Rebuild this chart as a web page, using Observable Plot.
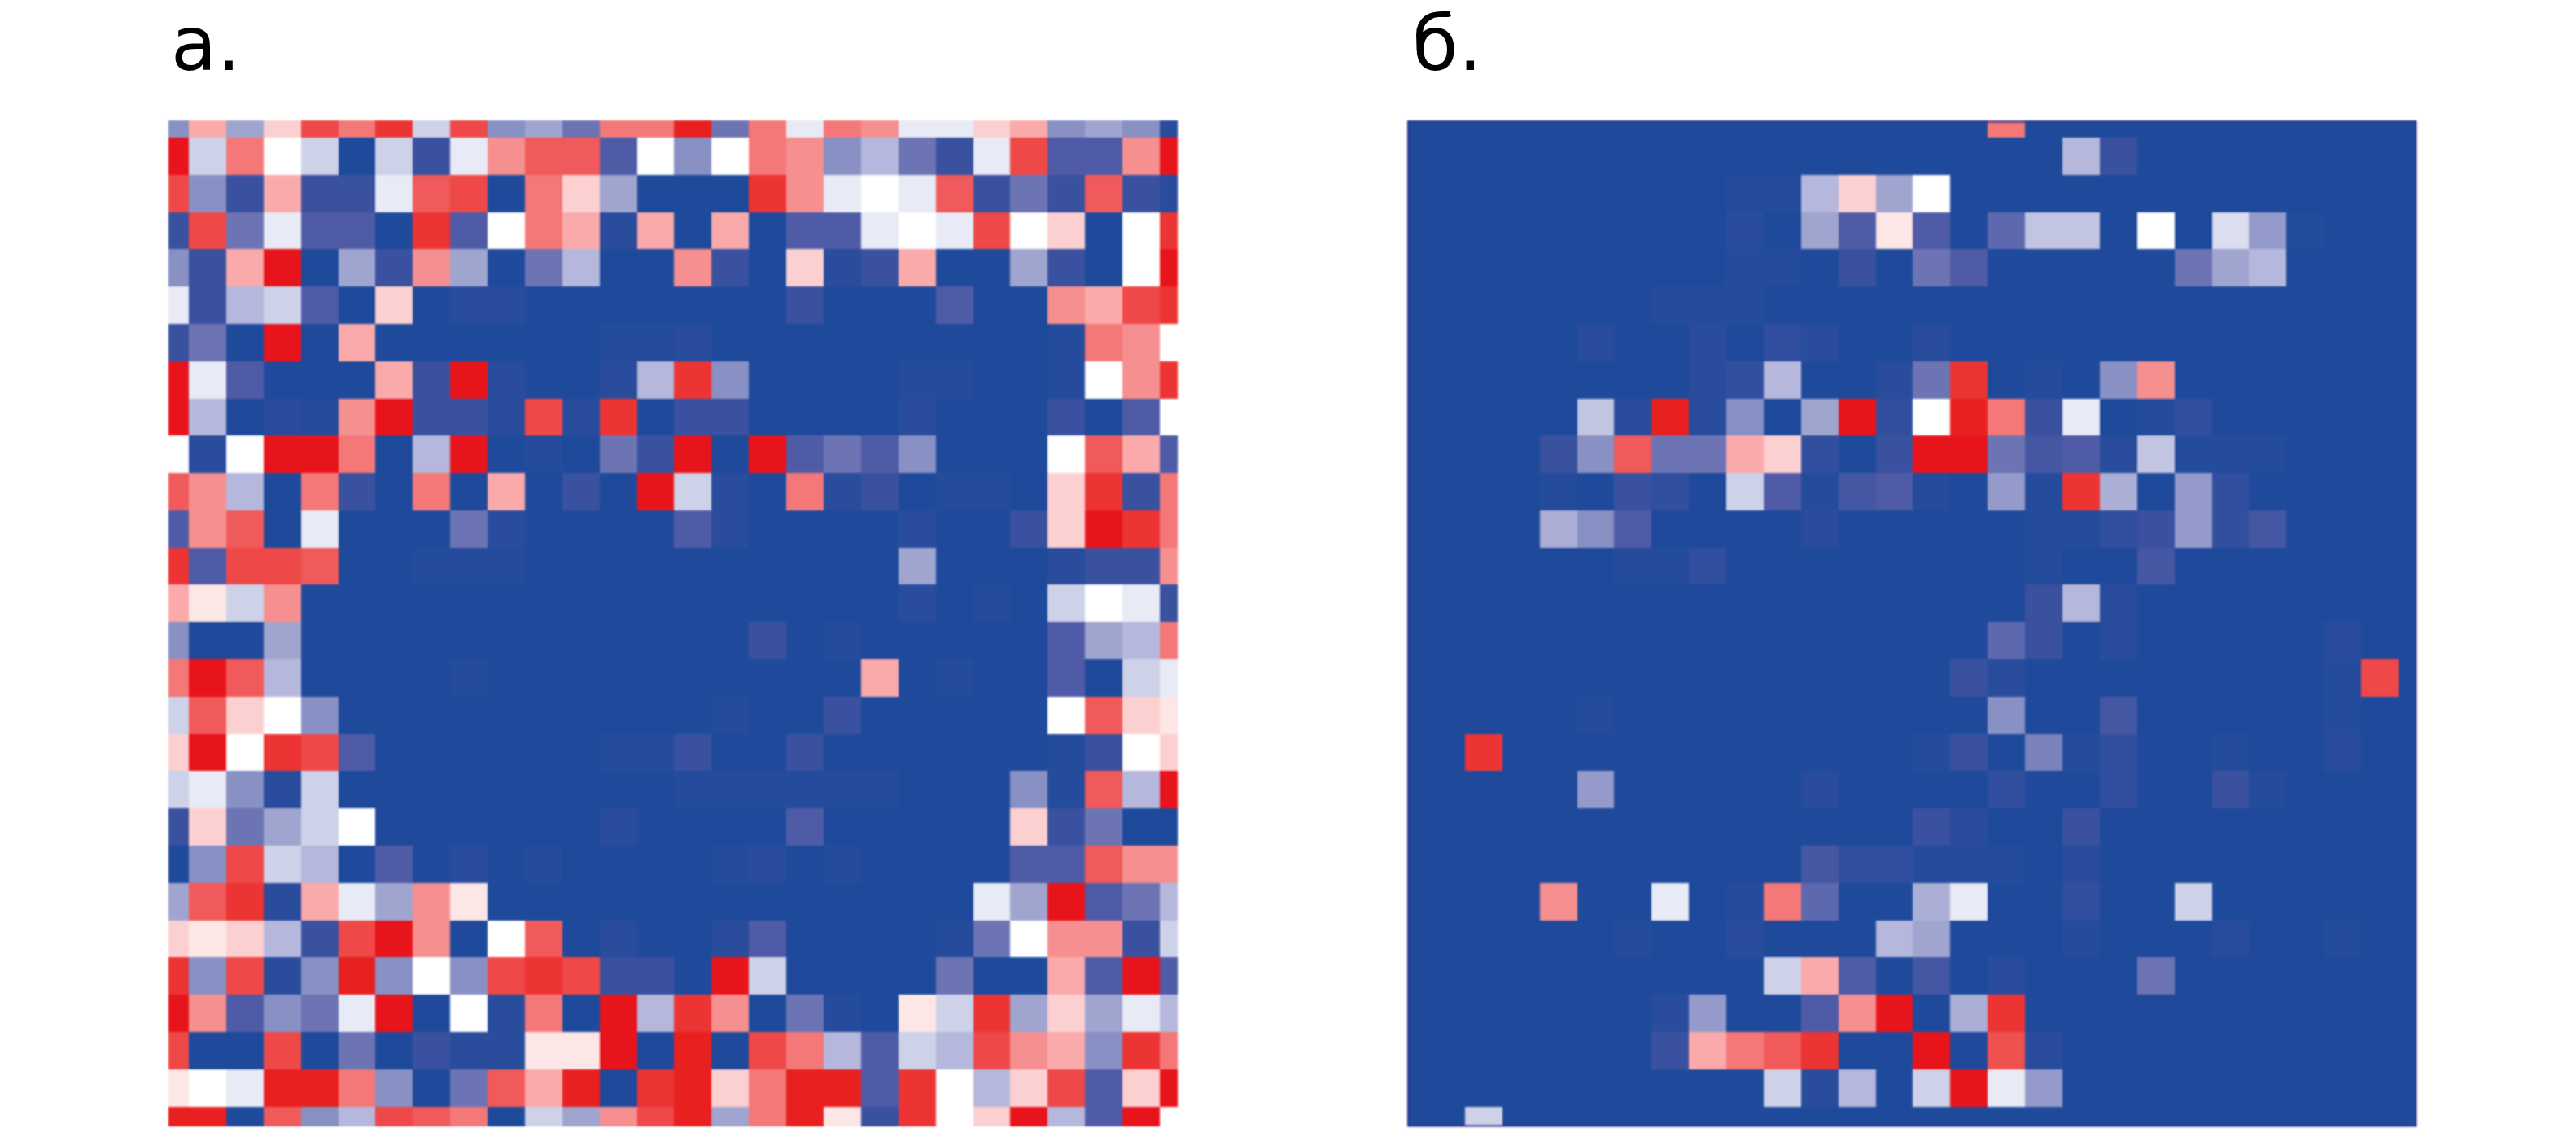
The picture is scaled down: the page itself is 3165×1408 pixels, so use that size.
<!DOCTYPE html>
<html lang="ru">
<head>
<meta charset="utf-8">
<script src="https://cdn.jsdelivr.net/npm/d3@7"></script>
<script src="https://cdn.jsdelivr.net/npm/@observablehq/plot@0.6"></script>
<style>
html,body{margin:0;padding:0;background:#fff;width:3165px;height:1408px;overflow:hidden}
.lab{position:absolute;top:1px;font:92px "DejaVu Sans",sans-serif;line-height:normal;color:#000;margin:0;font-weight:400}
.panel{position:absolute;line-height:0}
.panel svg{filter:blur(1.2px);overflow:visible}
</style>
</head>
<body>
<div class="lab" style="left:210px">а.</div>
<div class="lab" style="left:1735px">б.</div>
<div class="panel" id="a" style="left:207px;top:148px"></div>
<div class="panel" id="b" style="left:1729px;top:148px"></div>
<script>
const panelA = [
[5,13,6,12,17,15,18,8,17,5,6,4,15,15,19,4,15,9,15,14,9,9,12,13,5,6,5,1],
[20,8,15,10,8,0,8,2,9,14,16,16,3,10,5,10,15,14,5,7,4,2,9,17,3,3,14,20],
[17,5,2,13,2,2,9,16,17,0,15,12,6,0,0,0,18,14,9,10,9,16,2,4,2,16,2,1],
[2,17,4,9,3,3,0,18,3,10,15,13,1,13,0,13,0,3,3,9,10,9,17,10,12,0,10,18],
[5,2,13,20,0,6,2,14,6,0,4,7,0,0,14,2,0,12,1,2,13,0,0,6,2,0,10,20],
[9,2,7,8,3,0,12,0,1,1,0,0,0,0,0,0,0,2,0,0,0,3,0,0,14,13,17,18],
[2,4,0,20,0,13,0,0,0,0,0,0,0.5,0.5,1,0,0,0,0,0,0,0,0,0,0.5,15,14,10],
[20,9,3,0,0,0,13,2,20,1,0,0,1,7,18,5,0,0,0,0,0.5,0.5,0,0,0.5,10,14,18],
[20,7,0,1,0.5,14,20,2,2,1,17,1,18,0,2,2,0,0,0,0,1,0,0,0,2,0,3,10],
[10,1,10,20,20,15,0,7,20,0,0.5,0,4,2,20,0,20,3,4,3,5,0,0,0,10,16,13,3],
[16,14,7,0,15,2,0,15,0,13,0,2,0,20,8,1,0,15,1,2,0,0.5,0.5,0,12,18,2,15],
[3,14,16,0,9,0,0,0,4,1,0,0,0,0,3,1,0,0,0,0,1,0,0,2,12,20,18,15],
[18,3,17,17,16,0,0,0.5,0.5,0.5,0,0,0,0,0,0,0,0,0,0,6,0,0,0,1,2,2,14],
[13,11,8,14,0,0,0,0,0,0,0,0,0,0,0,0,0,0,0,0,1,0,0.5,0,8,10,9,2],
[5,0,0,6,0,0,0,0,0,0,0,0,0,0,0,0,2,0,0.5,0,0,0,0,0,3,6,7,15],
[15,20,16,7,0,0,0,0,0.5,0,0,0,0,0,0,0,0,0,0,13,0,0.5,0,0,3,0,8,9],
[8,16,12,10,5,0,0,0,0,0,0,0,0,0,0,0.5,0,0,2,0,0,0,0,0,10,16,12,11],
[12,20,10,18,17,3,0,0,0,0,0,0,0.5,0.5,2,0,0,2,0,0,0,0,0,0,0.5,2,10,12],
[8,9,5,1,8,0,0,0,0,0,0,0,0,0,0.5,0.5,0.5,0.5,0.5,0.5,0,0,0,5,0.5,16,7,20],
[2,12,4,6,8,10,0,0,0,0,0,0,1,0,0,0,0,3,0,0,0,0,0,12,2,4,0,0],
[0,5,17,8,7,0,3,0,1,0,0.5,0,0,0,0,0.5,1,0,0.5,0,0,0,0,3,3,16,14,14],
[6,16,18,1,13,9,6,14,11,0,0,0,0,0,0,0,0,0,0,0,0,0,9,6,20,3,4,7],
[12,11,12,7,2,17,20,14,0,10,16,0,1,0,0,1,3,0,0,0,0,0.5,4,10,14,14,2,8],
[18,5,17,1,5,19,5,10,5,17,18,17,2,2,0,20,8,0,0,0,0,4,0,0,13,3,20,3],
[20,14,3,5,4,9,20,0,10,1,15,0,20,7,18,14,0,4,0.5,0,11,8,18,6,12,6,9,7],
[17,0,0,17,0,4,0,2,1,1,11,11,20,0,19,0,17,15,7,3,8,7,17,14,13,5,18,15],
[11,10,9,19,19,15,5,0,4,16,13,19,0,18,19,12,15,19,19,3,18,10,7,12,17,3,12,20],
[19,19,0,16,5,7,17,16,15,0,8,6,14,17,19,6,15,19,11,2,18,10,12,20,7,3,20,10]
];
const panelB = [
[0,0,0,0,0,0,0,0,0,0,0,0,0,0,0,0,15,0,0,0,0,0,0,0,0,0,0,0],
[0,0,0,0,0,0,0,0,0,0,0,0,0,0,0,0,0,0,7,2,0,0,0,0,0,0,0,0],
[0,0,0,0,0,0,0,0,0,0.5,0.5,7,12,6,10,0,0,0,0,0,0,0,0,0,0,0,0,0],
[0,0,0,0,0,0,0,0,0,1,0,6,3,11,3,0,3.5,7.5,7.5,0,10,0,8.5,5.5,0.3,0,0,0],
[0,0,0,0,0,0,0,0,0,0.5,0.5,0,2,0,4,3,0,0,0,0,0,4,6,7,0,0,0,0],
[0,0,0,0,0,0,0,0.5,0.5,0.5,0,0,0,0,0,0,0,0,0,0,0,0,0,0,0,0,0,0],
[0,0,0,0,0,1,0,0,1,0,1.5,1,0,0,1,0,0,0,0,0,0,0,0,0,0,0,0,0],
[0,0,0,0,0,0,0,0,1,1.5,7,0,0,1,4,18,0,0.5,0,5,14,0,0,0,0,0,0,0],
[0,0,0,0,0,7.5,1,19,1,5,0,6,20,1.5,10,19,15,2,9,0,0.5,1.5,0,0,0,0,0,0],
[0,0,0,0,2,5,16,4,4,13,12,1.5,0,2,20,20,4,2.5,3,1,7.5,0.5,0.5,0.5,0,0,0,0],
[0,0,0,0,0.5,0,2,1.5,0,8,3,0.5,2.5,3,0.5,0,5.5,0.5,18,6.5,0,5.5,1.5,0,0,0,0,0],
[0,0,0,0,6.5,5,3,0,0,0,0,1,0,0,0,0,0,0.5,0.5,1.5,2,5.5,1.5,2.5,0,0,0,0],
[0,0,0,0,0,0,0.5,0.5,1.5,0,0,0,0,0,0,0,0,0.5,0,0,2.5,0,0,0,0,0,0,0],
[0,0,0,0,0,0,0,0,0,0,0,0,0,0,0,0,0,2,7,1,0,0,0,0,0,0,0,0],
[0,0,0,0,0,0,0,0,0,0,0,0,0,0,0,0,3.5,2,0,1,0,0,0,0,0,1,0,0],
[0,0,0,0,0,0,0,0,0,0,0,0,0,0,0,2,1,0,0,0,0,0,0,0,0,0.5,17,0],
[0,0,0,0,0,0.5,0,0,0,0,0,0,0,0,0,0,5,0,0,2.5,0,0,0,0,0,0.5,0,0],
[0,0,18,0,0,0,0,0,0,0,0,0,0,0,0.5,2,0,4.5,0.5,1.5,0,0,0.5,0,0,1,0,0],
[0,0,0,0,0,5.5,0,0,0,0,0,1,0,0,0,0,1.5,0,0,1.5,0,0,2,0.5,0,0,0,0],
[0,0,0,0,0,0,0,0,0,0,0,0,0,0,2,1,0,0,2,0,0,0,0,0,0,0,0,0],
[0,0,0,0,0,0,0,0,0,0,0,2.5,1.5,1.5,0.5,0.5,0.5,0,1,0,0,0,0,0,0,0,0,0],
[0,0,0,0,14,0,0,9,0,0.5,15,3.5,0,0,6.5,9,0,0,1.5,0,0,8,0,0,0,0,0,0],
[0,0,0,0,0,0,0.5,0,0,1,0,0,0,7,6,0,0,0,0.5,0,0,0,0.8,0,0,0.5,0,0],
[0,0,0,0,0,0,0,0,0,0,8,13,3,0,2.5,0,1,0,0,0,4,0,0,0,0,0,0,0],
[0,0,0,0,0,0,0,1,5.5,0,0,3,14,20,0,6.5,18,0,0,0,0,0,0,0,0,0,0,0],
[0,0,0,0,0,0,0,2,13,15,16,18,0,0,20,0,16.5,1,0,0,0,0,0,0,0,0,0,0],
[0,0,0,0,0,0,0,0,0,0,8,1,7,0,8,20,9,5.5,0,0,0,0,0,0,0,0,0,0],
[0,0,8,0,0,0,0,0,0,0,0,0,0,0,0,0,0,0,0,0,0,0,0,0,0,0,0,0]
];
const colorStops = [0,1,2,3,4,5,6,7,8,9,10,11,12,13,14,15,16,17,18,19,20];
const colorRange = ["#1f4a9b","#294c9d","#39519f","#505ba7","#6c74b4","#8890c4","#a0a5d0","#b5b8dc","#ced2e8","#e8eaf5","#ffffff","#fde6e6","#fcd0d0","#faaaaa","#f68f8f","#f47878","#f05a5a","#ee4848","#ec3434","#e82020","#e8141c"];
const xWindow = [0.456, 27.48];
const yWindow = [0.54, 27.535];

function panel(rows, id, w, h, edge) {
  const cells = rows.flatMap((r, row) => r.map((v, col) => ({row, col, v})));
  const chart = Plot.plot({
    width: w, height: h,
    margin: 0,
    x: {domain: xWindow, axis: null},
    y: {domain: yWindow, reverse: true, axis: null},
    color: {type: "linear", domain: colorStops, range: colorRange},
    marks: [
      Plot.rect(cells, {
        x1: "col", x2: d => d.col + 1,
        y1: "row", y2: d => d.row + 1,
        fill: "v", clip: true, inset: 0,
        shapeRendering: "crispEdges"
      }),
      edge ? Plot.frame({stroke: edge, strokeWidth: 2, inset: 1}) : null
    ]
  });
  document.getElementById(id).append(chart);
}
panel(panelA, "a", 1240, 1236, null);
panel(panelB, "b", 1240, 1236, "#2c3288");
</script>
</body>
</html>
